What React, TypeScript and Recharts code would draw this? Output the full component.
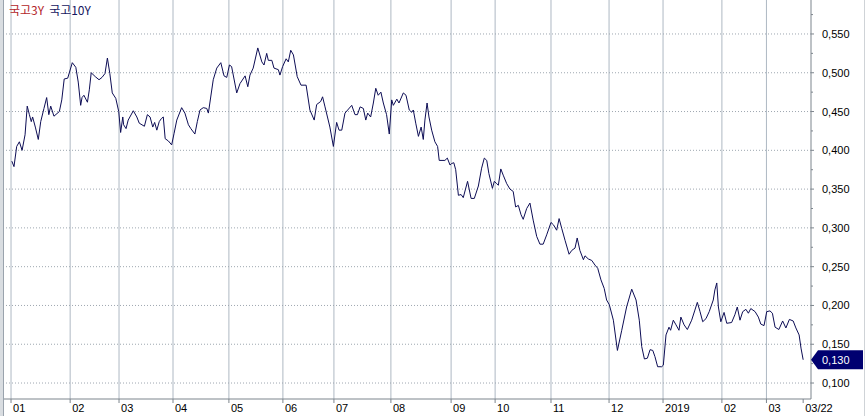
import React from 'react';
import { LineChart, Line, XAxis, YAxis, ReferenceLine } from 'recharts';

const legendNames = ['국고3Y', '국고10Y'];
const legendColors = ['#b3262b', '#161660'];

// trading-day index of each month start (2018-01 .. 2019-03)
const monthTickDays = [0, 21.9, 40, 60, 80.7, 100.7, 119.6, 140.7, 163, 179.3, 200, 221.5, 241.5, 263.3, 279.8];
const monthTickLabels = ['01', '02', '03', '04', '05', '06', '07', '08', '09', '10', '11', '12', '2019', '02', '03'];
const lastDateLabel = '03/22';

const yMajorTicks = [0.1, 0.15, 0.2, 0.25, 0.3, 0.35, 0.4, 0.45, 0.5, 0.55];
const yMinorTicks = [0.125, 0.175, 0.225, 0.275, 0.325, 0.375, 0.425, 0.475, 0.525, 0.575];

// [trading day index, value]
const series10Y: [number, number][] = [
  [0.3, 0.386], [1.1, 0.379], [2.1, 0.405], [3.1, 0.411], [4.1, 0.4], [5.2, 0.42], [6.0, 0.457], [6.8, 0.446],
  [7.5, 0.437], [8.0, 0.443], [9.0, 0.43], [10.1, 0.414], [11.0, 0.437], [12.2, 0.454], [13.2, 0.468], [14.0, 0.446],
  [14.7, 0.457], [15.9, 0.444], [17.9, 0.45], [18.8, 0.465], [19.7, 0.492], [21.0, 0.493], [22.7, 0.513], [24.0, 0.507],
  [24.9, 0.488], [25.8, 0.458], [26.3, 0.468], [27.0, 0.471], [28.3, 0.462], [29.0, 0.478], [29.7, 0.5], [31.2, 0.495],
  [32.6, 0.491], [33.7, 0.494], [34.8, 0.499], [35.7, 0.519], [36.6, 0.499], [37.5, 0.474], [38.8, 0.467], [39.9, 0.45],
  [40.6, 0.423], [41.4, 0.443], [41.7, 0.433], [42.6, 0.428], [43.4, 0.439], [45.3, 0.451], [46.6, 0.443], [47.5, 0.435],
  [49.4, 0.431], [50.5, 0.446], [51.5, 0.443], [52.5, 0.43], [53.2, 0.436], [54.0, 0.426], [54.9, 0.437], [55.7, 0.441],
  [56.4, 0.443], [57.1, 0.415], [58.3, 0.412], [59.5, 0.407], [60.4, 0.422], [61.4, 0.439], [63.2, 0.455], [64.4, 0.448],
  [65.7, 0.433], [66.6, 0.428], [68.1, 0.421], [69.0, 0.437], [70.0, 0.452], [71.2, 0.455], [72.5, 0.454], [73.1, 0.448],
  [74.9, 0.491], [76.2, 0.506], [77.7, 0.513], [78.9, 0.496], [79.9, 0.494], [80.9, 0.51], [81.7, 0.508], [83.6, 0.474],
  [84.8, 0.486], [86.7, 0.496], [87.7, 0.482], [88.5, 0.497], [89.7, 0.506], [91.4, 0.532], [92.9, 0.514], [93.7, 0.51],
  [94.7, 0.525], [95.3, 0.516], [96.6, 0.516], [97.4, 0.506], [99.0, 0.504], [99.6, 0.497], [100.6, 0.508], [101.9, 0.518],
  [102.7, 0.514], [103.6, 0.529], [104.6, 0.523], [106.0, 0.495], [107.4, 0.484], [109.3, 0.484], [110.7, 0.452], [112.3, 0.439],
  [113.2, 0.459], [114.7, 0.463], [115.4, 0.469], [116.3, 0.456], [118.1, 0.43], [119.4, 0.405], [120.6, 0.436], [121.5, 0.426],
  [122.5, 0.426], [123.7, 0.448], [126.2, 0.458], [127.4, 0.446], [128.3, 0.446], [129.3, 0.456], [130.5, 0.454], [131.4, 0.439],
  [132.1, 0.448], [133.2, 0.443], [134.2, 0.461], [135.1, 0.48], [136.0, 0.471], [137.0, 0.475], [137.9, 0.461], [139.1, 0.446],
  [140.1, 0.421], [141.0, 0.465], [141.6, 0.458], [142.9, 0.466], [143.7, 0.461], [145.3, 0.474], [146.3, 0.471], [147.5, 0.452],
  [148.4, 0.449], [149.0, 0.452], [149.9, 0.435], [150.9, 0.418], [151.9, 0.43], [152.7, 0.414], [153.3, 0.439], [154.1, 0.461],
  [154.8, 0.443], [155.8, 0.426], [157.0, 0.411], [158.0, 0.405], [158.6, 0.387], [160.7, 0.387], [161.6, 0.39], [162.6, 0.381],
  [163.2, 0.383], [164.0, 0.384], [164.7, 0.375], [165.7, 0.342], [166.7, 0.343], [167.5, 0.339], [169.1, 0.36], [170.4, 0.338],
  [171.6, 0.338], [173.1, 0.354], [174.3, 0.377], [175.3, 0.39], [176.2, 0.387], [177.0, 0.37], [178.3, 0.351], [179.0, 0.36],
  [179.9, 0.357], [180.5, 0.355], [181.4, 0.376], [182.3, 0.368], [183.6, 0.357], [184.8, 0.35], [186.0, 0.347], [186.9, 0.327],
  [187.9, 0.329], [188.9, 0.317], [189.7, 0.311], [191.0, 0.325], [192.2, 0.332], [193.4, 0.31], [194.7, 0.289], [195.9, 0.279],
  [197.1, 0.279], [198.4, 0.291], [200.0, 0.307], [200.9, 0.304], [202.1, 0.297], [203.0, 0.312], [204.0, 0.299], [205.2, 0.284],
  [206.7, 0.266], [207.7, 0.271], [208.9, 0.274], [209.7, 0.287], [210.7, 0.271], [212.0, 0.259], [212.6, 0.264], [213.8, 0.26],
  [215.1, 0.258], [216.3, 0.252], [217.3, 0.248], [218.5, 0.233], [219.7, 0.222], [220.6, 0.207], [221.6, 0.201], [223.1, 0.181],
  [224.6, 0.142], [226.2, 0.168], [228.0, 0.198], [229.9, 0.221], [231.5, 0.207], [232.7, 0.181], [233.6, 0.147], [234.6, 0.131],
  [235.7, 0.132], [236.7, 0.143], [237.7, 0.142], [238.5, 0.134], [239.5, 0.121], [241.0, 0.121], [241.6, 0.123], [242.6, 0.162],
  [243.7, 0.172], [244.3, 0.168], [245.3, 0.181], [246.3, 0.175], [247.4, 0.168], [248.1, 0.185], [249.3, 0.175], [250.5, 0.169],
  [252.1, 0.181], [253.3, 0.194], [254.2, 0.204], [255.2, 0.192], [256.2, 0.179], [257.4, 0.183], [258.6, 0.192], [260.1, 0.207],
  [260.7, 0.22], [261.4, 0.229], [262.0, 0.198], [262.9, 0.179], [264.1, 0.191], [265.1, 0.177], [266.9, 0.178], [268.1, 0.188],
  [269.0, 0.198], [270.0, 0.181], [271.0, 0.192], [272.2, 0.195], [273.1, 0.19], [274.0, 0.196], [275.6, 0.192], [276.8, 0.185],
  [277.7, 0.176], [278.9, 0.174], [279.9, 0.192], [281.1, 0.193], [282.0, 0.19], [283.0, 0.172], [284.4, 0.169], [285.8, 0.18],
  [287.0, 0.171], [288.3, 0.182], [289.7, 0.18], [290.7, 0.171], [291.9, 0.162], [292.6, 0.145], [293.4, 0.13],
];

const data = series10Y.map(([d, v]) => ({ d, v }));
const last = data[data.length - 1];
const xTicks = [...monthTickDays, last.d];
const xLabels = [...monthTickLabels, lastDateLabel];
const yTicks = [...yMajorTicks, ...yMinorTicks, last.v];

const AXIS_FONT = '"Liberation Sans", Arial, sans-serif';
const fmt = (v: number) => v.toFixed(3).replace('.', ',');

const XTick = (props: any) => {
  const { x, y, payload } = props;
  const i = xTicks.indexOf(payload.value);
  return (
    <g>
      <line x1={x} x2={x} y1={y} y2={y + 4} stroke="#7d858d" />
      <text x={x + 2} y={y + 13} fontSize={11} fill="#000" fontFamily={AXIS_FONT} textAnchor="start">
        {xLabels[i]}
      </text>
    </g>
  );
};

const YTick = (props: any) => {
  const { x, y, payload } = props;
  const v = payload.value;
  if (v === last.v) {
    const pts = `${x},${y} ${x + 7},${y - 9.5} ${x + 52},${y - 9.5} ${x + 52},${y + 9.5} ${x + 7},${y + 9.5}`;
    return (
      <g>
        <polygon points={pts} fill="#000070" />
        <text x={x + 11} y={y + 4} fontSize={11} fill="#fff" fontFamily={AXIS_FONT}>
          {fmt(v)}
        </text>
      </g>
    );
  }
  if (yMajorTicks.includes(v)) {
    return (
      <g>
        <line x1={x} x2={x + 3} y1={y} y2={y} stroke="#7d858d" />
        <text x={x + 11} y={y + 4} fontSize={11} fill="#000" fontFamily={AXIS_FONT}>
          {fmt(v)}
        </text>
      </g>
    );
  }
  return <line x1={x} x2={x + 2} y1={y} y2={y} stroke="#7d858d" />;
};

export default function App() {
  return (
    <div style={{ position: 'absolute', left: 0, top: 0, width: 865, height: 416, background: '#fff', overflow: 'hidden' }}>
      <div style={{ position: 'absolute', left: 0, top: 0, width: 3, height: 416, background: '#d9dde1', borderRight: '1px solid #9aa3ad' }} />
      <div style={{ position: 'absolute', right: 0, top: 0, width: 1, height: 416, background: '#cfd3d7' }} />
      <LineChart width={865} height={416} data={data} margin={{ top: 0, right: 0, left: 4, bottom: 0 }}>
        {monthTickDays.map((d) => (
          <ReferenceLine key={'vx' + d} x={d} stroke="#aeb8c3" strokeWidth={1} ifOverflow="hidden" />
        ))}
        {yMajorTicks.map((v) => (
          <ReferenceLine key={'hy' + v} y={v} stroke="#9ea7b0" strokeDasharray="1 2" />
        ))}
        <XAxis
          type="number"
          dataKey="d"
          domain={[-2.6, 296.3]}
          allowDataOverflow
          ticks={xTicks}
          interval={0}
          tick={<XTick />}
          tickLine={false}
          tickSize={0}
          tickMargin={0}
          axisLine={{ stroke: '#7d858d' }}
          height={17}
        />
        <YAxis
          orientation="right"
          type="number"
          domain={[0.0794, 0.5938]}
          allowDataOverflow
          ticks={yTicks}
          interval={0}
          tick={<YTick />}
          tickLine={false}
          tickSize={0}
          tickMargin={0}
          axisLine={{ stroke: '#7d858d' }}
          width={54}
        />
        <Line type="linear" dataKey="v" stroke="#0d0d55" strokeWidth={1} dot={false} isAnimationActive={false} />
      </LineChart>
      <div style={{ position: 'absolute', left: 9, top: 3, fontSize: 12, lineHeight: '14px', fontFamily: '"Noto Sans CJK KR", sans-serif', whiteSpace: 'nowrap' }}>
        {legendNames.map((n, i) => (
          <span key={n} style={{ color: legendColors[i], marginRight: 5 }}>{n}</span>
        ))}
      </div>
    </div>
  );
}
